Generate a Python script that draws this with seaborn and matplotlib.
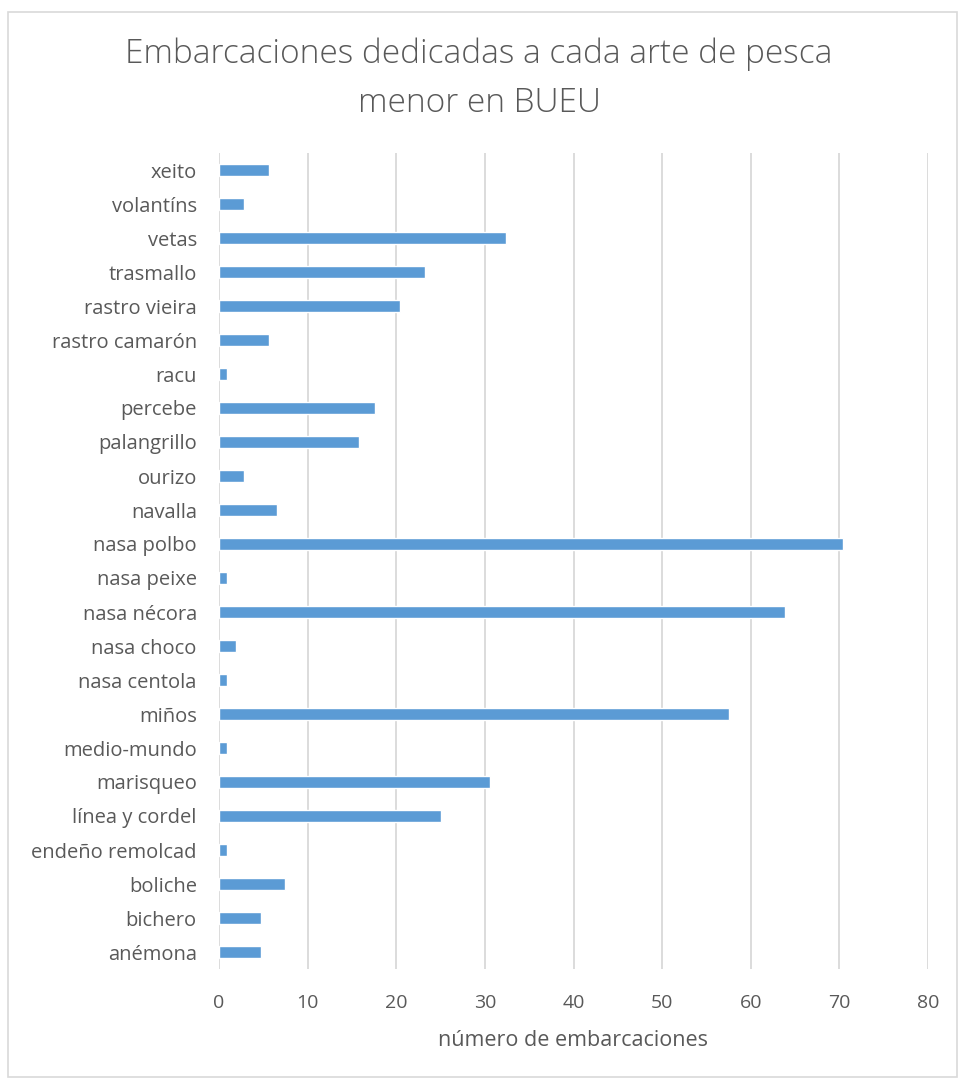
import matplotlib
matplotlib.use("Agg")
import matplotlib.pyplot as plt
import seaborn as sns
import pandas as pd
from matplotlib.patches import Rectangle

categorias = ["xeito", "volantíns", "vetas", "trasmallo", "rastro vieira",
              "rastro camarón", "racu", "percebe", "palangrillo", "ourizo",
              "navalla", "nasa polbo", "nasa peixe", "nasa nécora", "nasa choco",
              "nasa centola", "miños", "medio-mundo", "marisqueo",
              "línea y cordel", "endeño remolcad", "boliche", "bichero", "anémona"]
embarcaciones = [5.6, 2.8, 32.4, 23.2, 20.4,
                 5.6, 0.95, 17.6, 15.8, 2.8,
                 6.5, 70.4, 0.95, 63.9, 1.9,
                 0.95, 57.5, 0.95, 30.6,
                 25.0, 0.95, 7.4, 4.7, 4.7]
xticks = [0, 10, 20, 30, 40, 50, 60, 70, 80]

df = pd.DataFrame({"arte": categorias, "n": embarcaciones})

sns.set_theme(style="white")
plt.rcParams['font.family'] = ['Open Sans', 'DejaVu Sans']

W, H = 958, 1079
fig = plt.figure(figsize=(W / 100, H / 100), dpi=100)
ax = fig.add_axes([219 / W, 1 - 969 / H, (928 - 219) / W, (969 - 153) / H])

sns.barplot(data=df, x="n", y="arte", orient="h", color="#5B9BD5",
            saturation=1, width=0.35, ax=ax, zorder=3)

ax.set_xlim(0, 80)
ax.set_xticks(xticks)
ax.set_xticklabels([str(t) for t in xticks])
ax.grid(axis="x", color="#d9d9d9", linewidth=1.3, zorder=0)
ax.grid(axis="y", visible=False)
for s in ax.spines.values():
    s.set_visible(False)
ax.tick_params(axis="both", length=0, colors="#595959")
ax.tick_params(axis="x", pad=18, labelsize=14)
ax.tick_params(axis="y", pad=16, labelsize=14.5)
ax.set_ylabel("")
ax.set_xlabel("número de embarcaciones", fontsize=15.5, color="#595959", labelpad=13)

fig.text(0.5, 1 - 54 / H, "Embarcaciones dedicadas a cada arte de pesca",
         ha="center", va="center", fontsize=24, color="#595959", fontweight="light")
fig.text(0.5, 1 - 103 / H, "menor en BUEU",
         ha="center", va="center", fontsize=24, color="#595959", fontweight="light")

fig.patches.append(Rectangle((7.5 / W, 2 / H), (956.5 - 7.5) / W, (1067.5 - 2) / H,
                             transform=fig.transFigure, fill=False,
                             edgecolor="#d9d9d9", linewidth=1.2))

fig.savefig("out.png", dpi=100)
